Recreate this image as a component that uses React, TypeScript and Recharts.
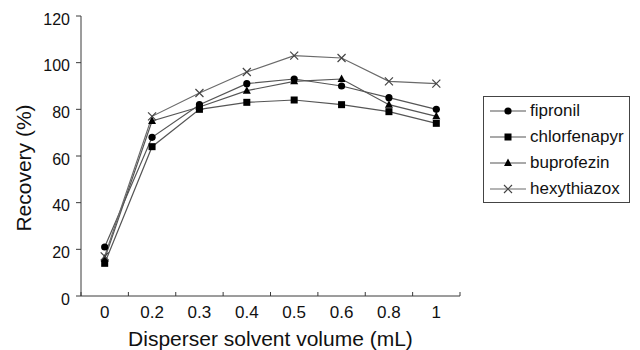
import React from "react";
import { LineChart, Line, XAxis, YAxis } from "recharts";

const categories = ["0", "0.2", "0.3", "0.4", "0.5", "0.6", "0.8", "1"];
const fipronil = [21, 68, 82, 91, 93, 90, 85, 80];
const chlorfenapyr = [14, 64, 80, 83, 84, 82, 79, 74];
const buprofezin = [16, 75, 81, 88, 92, 93, 82, 77];
const hexythiazox = [17, 77, 87, 96, 103, 102, 92, 91];
const yTicks = [0, 20, 40, 60, 80, 100, 120];

const data = categories.map((c, i) => ({
  idx: i,
  label: c,
  fipronil: fipronil[i],
  chlorfenapyr: chlorfenapyr[i],
  buprofezin: buprofezin[i],
  hexythiazox: hexythiazox[i],
}));

// ticks on band edges (x.5) and labels at band centres
const xTicks: number[] = [];
for (let i = -0.5; i <= categories.length - 0.5; i += 0.5) xTicks.push(i);

const FONT = "'Liberation Sans', Arial, sans-serif";
const AXIS = "#3a3a3a";

const XTick = ({ x, y, payload }: any) => {
  const v = payload.value;
  if (Math.abs(v % 1) === 0.5) {
    return <line x1={x} x2={x} y1={y} y2={y - 4} stroke={AXIS} strokeWidth={1} />;
  }
  return (
    <text x={x} y={y + 22} textAnchor="middle" fontSize={17} fill="#111" fontFamily={FONT}>
      {categories[v]}
    </text>
  );
};

const Circle = ({ cx, cy }: any) => <circle cx={cx} cy={cy} r={3.6} fill="#000" />;
const Square = ({ cx, cy }: any) => <rect x={cx - 3.5} y={cy - 3.5} width={7} height={7} fill="#000" />;
const Tri = ({ cx, cy }: any) => (
  <polygon points={`${cx},${cy - 4.5} ${cx + 4},${cy + 3} ${cx - 4},${cy + 3}`} fill="#000" />
);
const Cross = ({ cx, cy }: any) => (
  <path d={`M${cx - 4},${cy - 4}L${cx + 4},${cy + 4}M${cx - 4},${cy + 4}L${cx + 4},${cy - 4}`}
        stroke="#444" strokeWidth={1.2} fill="none" />
);

const series = [
  { key: "fipronil", Dot: Circle, stroke: "#555" },
  { key: "chlorfenapyr", Dot: Square, stroke: "#555" },
  { key: "buprofezin", Dot: Tri, stroke: "#555" },
  { key: "hexythiazox", Dot: Cross, stroke: "#6a6a6a" },
];

const LegendBox = () => (
  <div style={{
    position: "absolute", left: 483, top: 96, width: 145, padding: "1px 0 0 0",
    border: "1px solid #444", fontFamily: FONT, fontSize: 17, color: "#111", background: "#fff",
  }}>
    {series.map(({ key, Dot, stroke }) => (
      <div key={key} style={{ display: "flex", alignItems: "center", height: 26 }}>
        <svg width={46} height={14}>
          <line x1={6} x2={42} y1={7} y2={7} stroke={stroke} strokeWidth={1.2} />
          <Dot cx={24} cy={7} />
        </svg>
        <span>{key}</span>
      </div>
    ))}
  </div>
);

const YLabel = ({ viewBox }: any) => {
  const x = 23;
  const y = viewBox.y + viewBox.height / 2 + 12;
  return (
    <text x={x} y={y} transform={`rotate(-90 ${x} ${y})`} textAnchor="middle"
          dominantBaseline="central" fontSize={21} fill="#111" fontFamily={FONT}>
      Recovery (%)
    </text>
  );
};

export default function App() {
  return (
    <div style={{ position: "absolute", left: 0, top: 0, width: 640, height: 350, background: "#fff" }}>
      <LineChart width={640} height={350} data={data}
                 margin={{ top: 16, right: 180, left: 0, bottom: 0 }}>
        <XAxis
          dataKey="idx"
          type="number"
          domain={[-0.5, categories.length - 0.5]}
          ticks={xTicks}
          interval={0}
          tick={<XTick />}
          tickLine={false}
          tickSize={0}
          tickMargin={0}
          height={54}
          axisLine={{ stroke: AXIS, strokeWidth: 1 }}
          label={{ value: "Disperser solvent volume (mL)", position: "insideBottom", offset: 4,
                   fontSize: 21, fill: "#111", fontFamily: FONT }}
        />
        <YAxis
          domain={[0, 120]}
          ticks={yTicks}
          interval={0}
          width={81}
          tickSize={5}
          tickMargin={6}
          tickLine={{ stroke: AXIS }}
          axisLine={{ stroke: AXIS, strokeWidth: 1 }}
          tick={{ fontSize: 16, fill: "#111", fontFamily: FONT, dy: 3 }}
          label={<YLabel />}
        />
        {series.map(({ key, Dot, stroke }) => (
          <Line key={key} dataKey={key} type="linear" stroke={stroke} strokeWidth={1.2}
                dot={<Dot />} activeDot={false} isAnimationActive={false} />
        ))}
      </LineChart>
      <LegendBox />
    </div>
  );
}
